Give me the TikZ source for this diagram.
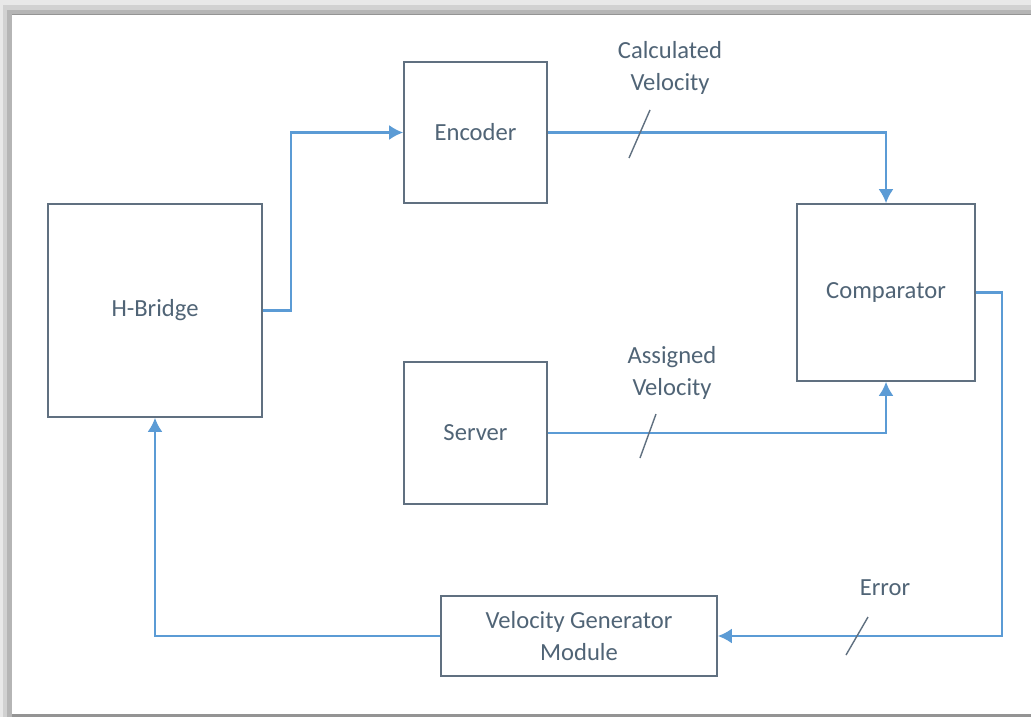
\documentclass[tikz,border=0pt]{standalone}
\usepackage{fontspec}
\setmainfont{Carlito}
\usetikzlibrary{arrows.meta}
\definecolor{boxline}{RGB}{96,112,128}
\definecolor{txt}{RGB}{80,100,118}
\definecolor{wirecol}{RGB}{91,155,213}
\tikzset{
  block/.style={draw=boxline, line width=0.8pt, text=txt, align=center, inner sep=0pt},
  wire/.style={draw=wirecol, line width=1.2pt, -{Latex[length=7pt,width=7.5pt]}},
  tag/.style={text=txt, align=center, inner sep=0pt},
  bus/.style={draw=boxline, line width=0.7pt}
}
\begin{document}
\begin{tikzpicture}[x=0.5pt,y=-0.5pt,font=\fontsize{12.3}{16}\selectfont]
  % page and shadow
  \fill[black!9] (0,0) rectangle (1031,717);
  \fill[black!18] (3,5) rectangle (1031,717);
  \fill[black!29] (7,10) rectangle (1031,717);
  \fill[black!42] (12,14) rectangle (1031,717);
  \fill[white] (12,15) rectangle (1031,714);

  \node[block, minimum width=107pt, minimum height=106.5pt] (hb) at (155,310.5) {H-Bridge};
  \node[block, minimum width=71.5pt, minimum height=70.5pt] (enc) at (475.5,132.5) {Encoder};
  \node[block, minimum width=71.5pt, minimum height=71pt] (srv) at (475.5,433) {Server};
  \node[block, minimum width=89pt, minimum height=88.5pt] (cmp) at (886,292.5) {Comparator};
  \node[block, minimum width=138pt, minimum height=40pt] (vgm) at (579,636) {Velocity Generator\\Module};

  \draw[wire] (hb.east) -- ++(28,0) |- (enc.west);
  \draw[wire] (enc.east) -| (cmp.north);
  \draw[wire] (srv.east) -| (cmp.south);
  \draw[wire] (cmp.east) -- ++(26,0) |- (vgm.east);
  \draw[wire] (vgm.west) -| (hb.south);

  % bus slashes
  \coordinate (s1) at (639.5,134);
  \coordinate (s2) at (648,436);
  \coordinate (s3) at (857,636);
  \draw[bus] (s1) +(-10.5,24) -- +(10.5,-24);
  \draw[bus] (s2) +(-8,22) -- +(8,-22);
  \draw[bus] (s3) +(-11,19) -- +(11,-19);

  \node[tag] (lcalc) at (670,68) {Calculated\\Velocity};
  \node[tag] (lassg) at (672,373) {Assigned\\Velocity};
  \node[tag] (lerr) at (885,588) {Error};
\end{tikzpicture}
\end{document}
